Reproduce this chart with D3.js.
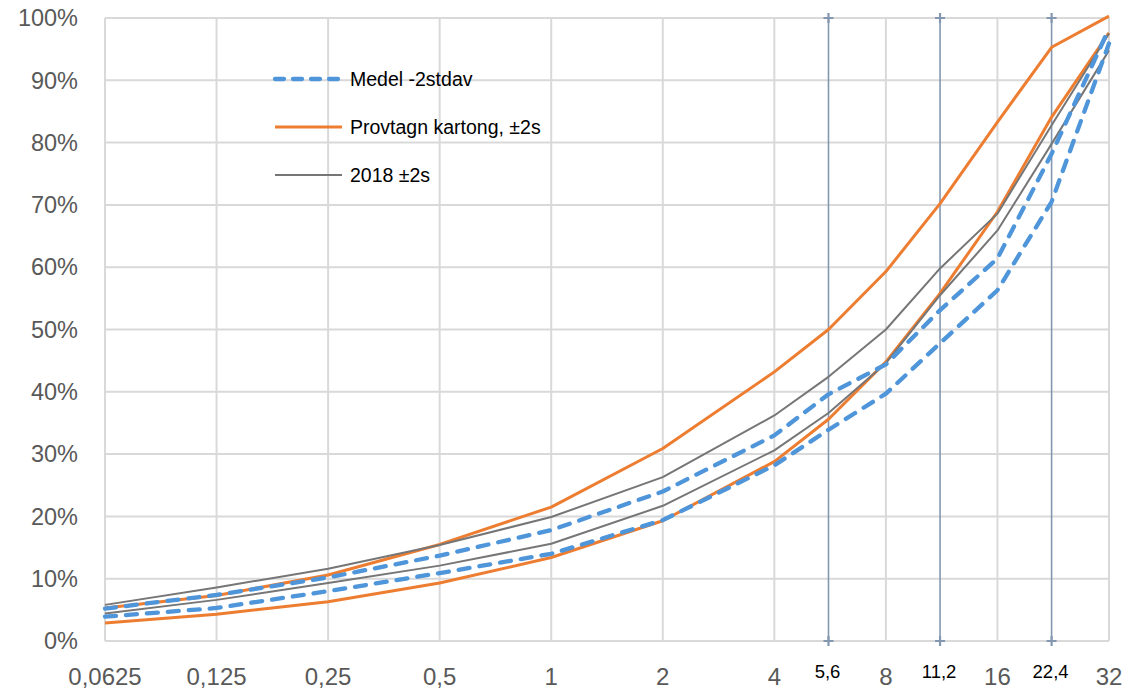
<!DOCTYPE html>
<html lang="sv">
  <head>
    <meta charset="utf-8">
    <script src="https://cdnjs.cloudflare.com/ajax/libs/d3/7.8.5/d3.min.js"></script>
    <style>
      body { margin: 0; background: #fff; }
      svg text { font-family: "Liberation Sans", Arial, sans-serif; }
      .grid line { stroke: #d9d9d9; stroke-width: 2; }
      .sieve line, .sieve path { stroke: #8497b0; stroke-width: 1.6; fill: none; }
      .series path { fill: none; stroke-linejoin: round; }
    </style>
  </head>

  <body>

  <script>
  // sieve sizes (mm) and passing fractions
  var sizes = [0.0625, 0.125, 0.25, 0.5, 1, 2, 4, 5.6, 8, 11.2, 16, 22.4, 32];
  var xTicks = [0.0625, 0.125, 0.25, 0.5, 1, 2, 4, 8, 16, 32];
  var markTicks = [5.6, 11.2, 22.4];
  var yTicks = [0, 0.1, 0.2, 0.3, 0.4, 0.5, 0.6, 0.7, 0.8, 0.9, 1];

  var medelHigh = [0.052, 0.074, 0.102, 0.137, 0.178, 0.240, 0.330, 0.396, 0.444, 0.531, 0.614, 0.782, 0.983];
  var medelLow  = [0.039, 0.053, 0.080, 0.109, 0.140, 0.194, 0.282, 0.339, 0.397, 0.478, 0.563, 0.705, 0.959];
  var provHigh  = [0.053, 0.073, 0.106, 0.155, 0.215, 0.309, 0.432, 0.500, 0.593, 0.702, 0.833, 0.953, 1.003];
  var provLow   = [0.029, 0.043, 0.063, 0.093, 0.134, 0.193, 0.288, 0.356, 0.448, 0.558, 0.689, 0.841, 0.976];
  var y2018High = [0.058, 0.086, 0.116, 0.154, 0.199, 0.263, 0.362, 0.424, 0.500, 0.598, 0.686, 0.828, 0.975];
  var y2018Low  = [0.044, 0.066, 0.093, 0.121, 0.156, 0.217, 0.306, 0.366, 0.446, 0.555, 0.659, 0.798, 0.948];

  var legendNames = ['Medel -2stdav', 'Provtagn kartong, \u00b12s', '2018 \u00b12s'];

  var width = 1134,
      height = 691;
  var plotLeft = 105, plotRight = 1109, plotTop = 18, plotBottom = 641;

  var svg = d3.select('body')
    .append('svg')
    .attr('width', width)
    .attr('height', height);

  var x = d3.scaleLog().base(2)
    .domain([0.0625, 32])
    .range([plotLeft, plotRight]);

  var y = d3.scaleLinear()
    .domain([0, 1])
    .range([plotBottom, plotTop]);

  var fmtX = function (d) { return String(d).replace('.', ','); };

  // grid
  var grid = svg.append('g').attr('class', 'grid');
  grid.selectAll('.h')
    .data(yTicks)
    .enter().append('line')
      .attr('x1', plotLeft).attr('x2', plotRight)
      .attr('y1', d => y(d)).attr('y2', d => y(d));
  grid.selectAll('.v')
    .data(xTicks)
    .enter().append('line')
      .attr('x1', d => x(d)).attr('x2', d => x(d))
      .attr('y1', plotTop).attr('y2', plotBottom);

  // extra sieve lines with + markers
  var sieve = svg.append('g').attr('class', 'sieve');
  sieve.selectAll('line')
    .data(markTicks)
    .enter().append('line')
      .attr('x1', d => x(d)).attr('x2', d => x(d))
      .attr('y1', plotTop).attr('y2', plotBottom);
  markTicks.forEach(function (d) {
    [plotTop, plotBottom].forEach(function (py) {
      sieve.append('path')
        .attr('d', 'M-5,0H5M0,-5V5')
        .attr('transform', 'translate(' + x(d) + ',' + py + ')')
        .style('stroke-width', 2.2);
    });
  });

  // axis labels
  svg.append('g').selectAll('text')
    .data(yTicks)
    .enter().append('text')
      .attr('x', 78)
      .attr('y', d => y(d))
      .attr('dy', '0.35em')
      .attr('text-anchor', 'end')
      .attr('font-size', 23.5)
      .attr('fill', '#595959')
      .text(d => d3.format('.0%')(d));

  svg.append('g').selectAll('text')
    .data(xTicks)
    .enter().append('text')
      .attr('x', d => x(d))
      .attr('y', 685)
      .attr('text-anchor', 'middle')
      .attr('font-size', 24)
      .attr('fill', '#595959')
      .text(fmtX);

  svg.append('g').selectAll('text')
    .data(markTicks)
    .enter().append('text')
      .attr('x', d => x(d) - 1)
      .attr('y', 678)
      .attr('text-anchor', 'middle')
      .attr('font-size', 18.5)
      .attr('fill', '#000')
      .text(fmtX);

  // series
  var line = d3.line()
    .x((d, i) => x(sizes[i]))
    .y(d => y(d));

  var styles = [
    { color: '#ED7D31', w: 3, dash: null },
    { color: '#767676', w: 2, dash: null },
    { color: '#4F95DA', w: 4.3, dash: '11,10' }
  ];

  var groups = [[provHigh, provLow], [y2018High, y2018Low], [medelHigh, medelLow]];

  var series = svg.append('g').attr('class', 'series');
  groups.forEach(function (pair, k) {
    var s = styles[k];
    series.selectAll(null)
      .data(pair)
      .enter().append('path')
        .attr('d', line)
        .attr('stroke', s.color)
        .attr('stroke-width', s.w)
        .attr('stroke-dasharray', s.dash)
        .attr('stroke-linecap', s.dash ? 'round' : 'butt');
  });

  // legend
  var legendStyles = [styles[2], styles[0], styles[1]];
  var legend = svg.append('g')
    .selectAll('g')
    .data(legendNames)
    .enter().append('g')
      .attr('transform', (d, i) => 'translate(0,' + (79 + i * 48) + ')');
  legend.append('line')
    .attr('x1', 275).attr('x2', 342)
    .attr('stroke', (d, i) => legendStyles[i].color)
    .attr('stroke-width', (d, i) => legendStyles[i].w)
    .attr('stroke-dasharray', (d, i) => legendStyles[i].dash ? '9,9' : null)
    .attr('stroke-linecap', (d, i) => legendStyles[i].dash ? 'round' : 'butt');
  legend.append('text')
    .attr('x', 350)
    .attr('dy', '0.35em')
    .attr('font-size', 19.5)
    .attr('fill', '#000')
    .text(d => d);
  </script>
  </body>
</html>
